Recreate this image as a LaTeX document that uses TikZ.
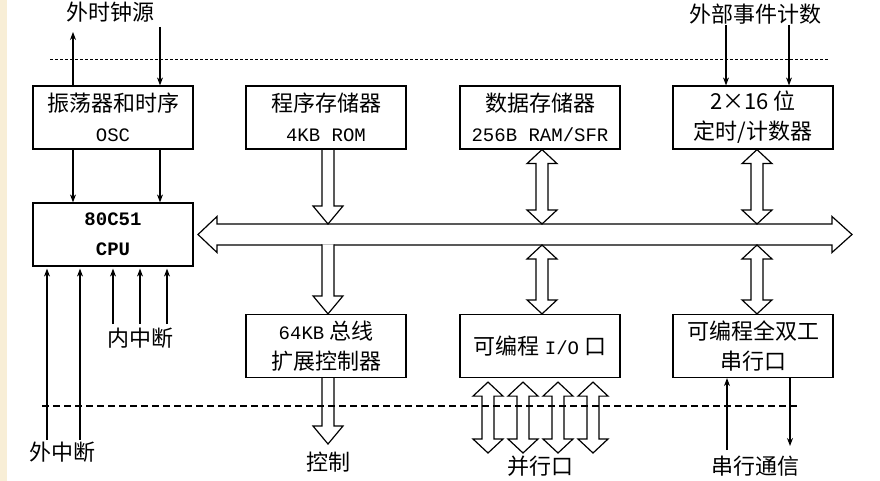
\documentclass[tikz,border=0pt]{standalone}
\usepackage{fontspec}
\setmainfont{Noto Sans CJK SC}
\setmonofont{Liberation Mono}
\usetikzlibrary{arrows.meta,calc}
\definecolor{edgebeige}{RGB}{248,238,214}
\newcommand\lat[1]{{\ttfamily\fontsize{19}{30}\selectfont #1}}
\newcommand\hollowdown[4][]{%
\draw[busline,#1] let \p1=(#2), \p2=(#3), \p3=(#4) in
 (\x1-6pt,\y2+0.6pt) -- (\x1-6pt,\y3+18pt) -- (\x1-15pt,\y3+18pt) -- (\x1,\y3)
 -- (\x1+15pt,\y3+18pt) -- (\x1+6pt,\y3+18pt) -- (\x1+6pt,\y2+0.6pt);}
\newcommand\hollowboth[3]{%
\draw[busline] let \p1=(#1), \p2=(#2), \p3=(#3) in
 (\x1,\y2) -- (\x1+15pt,\y2-14pt) -- (\x1+6pt,\y2-14pt) -- (\x1+6pt,\y3+14pt)
 -- (\x1+15pt,\y3+14pt) -- (\x1,\y3) -- (\x1-15pt,\y3+14pt) -- (\x1-6pt,\y3+14pt)
 -- (\x1-6pt,\y2-14pt) -- (\x1-15pt,\y2-14pt) -- cycle;}
\tikzset{
blk/.style={draw, line width=1.2pt, minimum width=160pt, minimum height=63pt, inner sep=0pt, align=center, font=\fontsize{22}{30}\selectfont},
sig/.style={line width=1.1pt, -{Stealth[length=8pt,width=6pt]}},
busline/.style={line width=1.2pt, line join=miter},
lbl/.style={inner sep=0pt, font=\fontsize{22}{24}\selectfont},
}
\begin{document}
\begin{tikzpicture}[x=1pt,y=-1pt]
\useasboundingbox (0,0) rectangle (880,481);
\fill[edgebeige] (0,0) rectangle (7,481);
\node[blk] (osc) at (113,117.5){振荡器和时序\\\lat{OSC}};
\node[blk] (rom) at (326,117.5){程序存储器\\\lat{4KB ROM}};
\node[blk] (ram) at (540,117.5){数据存储器\\\lat{256B RAM/SFR}};
\node[blk] (tmr) at (753,117.5){2×16 位\\定时/计数器};
\node[blk, font=\fontsize{19}{30}\ttfamily\bfseries] (cpu) at (113,234.5){80C51\\CPU};
\node[blk] (ext) at (326,346){\lat{64KB} 总线\\扩展控制器};
\node[blk] (pio) at (540,346){可编程 \lat{I/O} 口};
\node[blk] (uart) at (753,346){可编程全双工\\串行口};
\node[lbl] (clk) at (110,12){外时钟源};
\node[lbl] (ev) at (755,14){外部事件计数};
\node[lbl] (intin) at (140,338){内中断};
\node[lbl] (intex) at (62,452){外中断};
\node[lbl] (ctl) at (328,462){控制};
\node[lbl] (par) at (540,466){并行口};
\node[lbl] (ser) at (755,466){串行通信};
\coordinate (busL) at (198,234.5);
\coordinate (busR) at (852,234.5);
\coordinate (busT) at (0,224);
\coordinate (busB) at (0,245);
\coordinate (ctlTip) at (0,444);
\coordinate (parTip) at (0,453);
\draw[busline] let \p1=(busL), \p2=(busR) in (\p1) -- (\x1+19pt,\y1+18pt) -- (\x1+19pt,\y1+10.5pt) -- (\x2-20pt,\y1+10.5pt) -- (\x2-20pt,\y1+18pt) -- (\p2) -- (\x2-20pt,\y1-18pt) -- (\x2-20pt,\y1-10.5pt) -- (\x1+19pt,\y1-10.5pt) -- (\x1+19pt,\y1-18pt) -- cycle;
\hollowdown{[xshift=2pt]rom.south}{rom.south}{busT}
\hollowdown[fill=white]{[xshift=2pt]ext.north}{busB}{ext.north}
\hollowdown{[xshift=2pt]ext.south}{ext.south}{ctlTip}
\hollowboth{[xshift=2pt]ram.south}{ram.south}{busT}
\hollowboth{[xshift=4pt]tmr.south}{tmr.south}{busT}
\hollowboth{[xshift=2pt]pio.north}{busB}{pio.north}
\hollowboth{[xshift=4pt]uart.north}{busB}{uart.north}
\foreach \dx in {-52,-17,18,53}{
\hollowboth{[xshift=\dx pt]pio.south}{[yshift=-4pt]pio.south}{parTip}
}
\coordinate (clkA) at (73,32);
\coordinate (clkB) at (160,27);
\draw[sig] ([xshift=-40pt]osc.north) -- (clkA);
\draw[sig] (clkB) -- ([xshift=47pt]osc.north);
\draw[sig] ([xshift=-40pt]osc.south) -- ([xshift=-40pt]cpu.north);
\draw[sig] ([xshift=47pt]osc.south) -- ([xshift=47pt]cpu.north);
\coordinate (evA) at (726,25);
\coordinate (evB) at (789,25);
\draw[sig] (evA) -- ([xshift=-27pt]tmr.north);
\draw[sig] (evB) -- ([xshift=36pt]tmr.north);
\foreach \x/\dx in {47/-66,80/-33}{
\coordinate (ex\x) at (\x,440);
\draw[sig] (ex\x) -- ([xshift=\dx pt,yshift=-2pt]cpu.south);
}
\foreach \x/\dx in {113/0,140/27,167/54}{
\coordinate (in\x) at (\x,324);
\draw[sig] (in\x) -- ([xshift=\dx pt,yshift=-2pt]cpu.south);
}
\coordinate (rxd) at (727,450);
\coordinate (txd) at (790,446);
\draw[sig] (rxd) -- ([xshift=-26pt]uart.south);
\draw[sig] ([xshift=37pt]uart.south) -- (txd);
\draw[line width=0.8pt, dash pattern=on 3pt off 2pt] (50,59) -- (828,59);
\draw[line width=1.1pt, dash pattern=on 7pt off 4pt] (42,406) -- (800,406);
\end{tikzpicture}
\end{document}
